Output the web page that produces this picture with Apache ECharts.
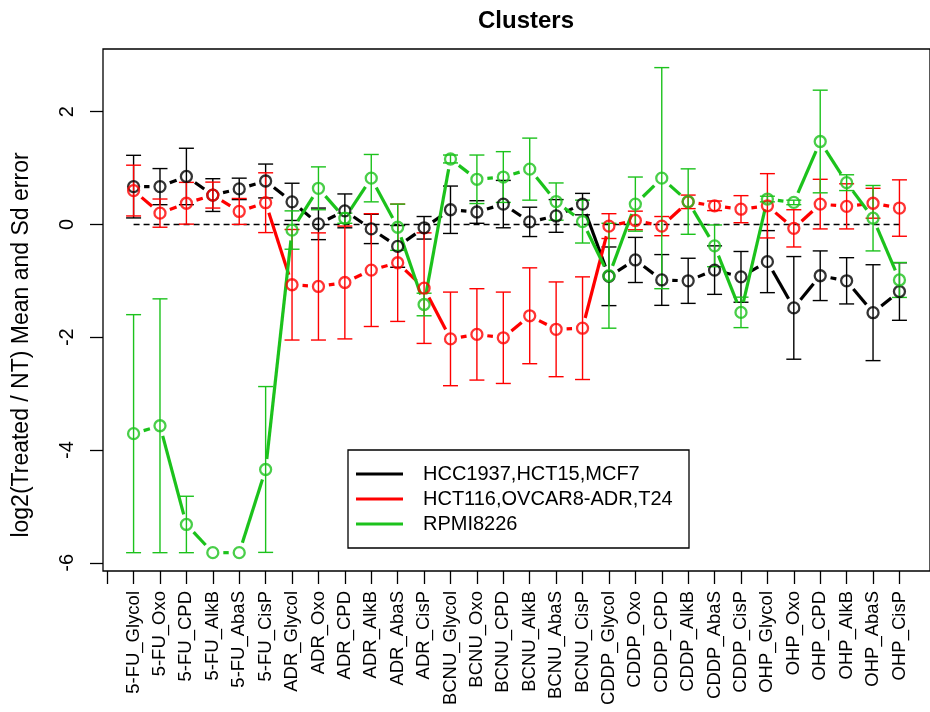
<!DOCTYPE html>
<html><head><meta charset="utf-8">
<script src="https://cdn.jsdelivr.net/npm/echarts@6/dist/echarts.min.js"></script>
<style>html,body{margin:0;padding:0;background:#fff}#c{width:930px;height:712px}</style>
</head><body><div id="c"></div>
<script>
const categories = ['5-FU_Glycol','5-FU_Oxo','5-FU_CPD','5-FU_AlkB','5-FU_AbaS','5-FU_CisP',
  'ADR_Glycol','ADR_Oxo','ADR_CPD','ADR_AlkB','ADR_AbaS','ADR_CisP',
  'BCNU_Glycol','BCNU_Oxo','BCNU_CPD','BCNU_AlkB','BCNU_AbaS','BCNU_CisP',
  'CDDP_Glycol','CDDP_Oxo','CDDP_CPD','CDDP_AlkB','CDDP_AbaS','CDDP_CisP',
  'OHP_Glycol','OHP_Oxo','OHP_CPD','OHP_AlkB','OHP_AbaS','OHP_CisP'];
const seriesNames = ['HCC1937,HCT15,MCF7','HCT116,OVCAR8-ADR,T24','RPMI8226'];
const seriesColors = ['#000000','#ff0000','#1cc21c'];
const blackMean = [0.67,0.67,0.85,0.52,0.63,0.77,0.40,0.01,0.24,-0.08,-0.39,-0.06,0.26,0.22,0.36,0.045,0.15,0.36,-0.92,-0.63,-0.985,-1.0,-0.81,-0.93,-0.66,-1.48,-0.91,-1.0,-1.565,-1.19];
const blackErr  = [0.555,0.32,0.5,0.29,0.19,0.3,0.33,0.28,0.30,0.26,0.37,0.2,0.42,0.2,0.42,0.26,0.29,0.19,0.52,0.40,0.45,0.40,0.43,0.45,0.55,0.91,0.44,0.41,0.85,0.51];
const redMean = [0.60,0.20,0.375,0.52,0.23,0.385,-1.07,-1.10,-1.03,-0.81,-0.68,-1.13,-2.03,-1.95,-2.01,-1.62,-1.86,-1.84,-0.03,0.07,-0.03,0.40,0.33,0.27,0.33,-0.07,0.36,0.32,0.375,0.29];
const redErr  = [0.45,0.25,0.37,0.23,0.23,0.53,0.98,0.95,1.0,1.0,1.04,0.98,0.83,0.81,0.81,0.85,0.84,0.91,0.22,0.165,0.17,0.12,0.085,0.24,0.57,0.33,0.44,0.40,0.265,0.50];
const greenMean = [-3.71,-3.57,-5.32,-5.82,-5.82,-4.345,-0.10,0.64,0.11,0.82,-0.05,-1.42,1.16,0.80,0.84,0.98,0.405,0.05,-0.91,0.36,0.82,0.405,-0.38,-1.56,0.45,0.39,1.47,0.74,0.11,-0.985];
const greenErr  = [2.11,2.25,0.5,0,0,1.47,0.34,0.38,0.09,0.42,0.41,0.2,0.07,0.43,0.45,0.55,0.33,0.38,0.93,0.48,1.96,0.58,0.37,0.27,0.05,0.04,0.91,0.14,0.58,0.31];
const yTicks = [-6,-4,-2,0,2];
const xTicks = [0].concat(categories.map((c,i)=>i+1));

const FONT = 'Liberation Sans, Arial, Helvetica, sans-serif';
const chart = echarts.init(document.getElementById('c'));

function gapLine(means, color){
  const data = means.slice(0,-1).map((m,i)=>[i+1, m, i+2, means[i+1]]);
  return {type:'custom', silent:true, z:3, data, encode:{x:[0,2], y:[1,3]},
    renderItem(params, api){
      const p1 = api.coord([api.value(0), api.value(1)]);
      const p2 = api.coord([api.value(2), api.value(3)]);
      const dx=p2[0]-p1[0], dy=p2[1]-p1[1], d=Math.hypot(dx,dy);
      const g = 10.5;
      if (d <= 2*g) return {type:'group', children:[]};
      const ux=dx/d, uy=dy/d;
      return {type:'line', shape:{x1:p1[0]+ux*g, y1:p1[1]+uy*g, x2:p2[0]-ux*g, y2:p2[1]-uy*g},
        style:{stroke:color, lineWidth:3.2}};
    }};
}
function errBars(means, errs, color){
  const data = means.map((m,i)=>[i+1, m-errs[i], m+errs[i]]);
  return {type:'custom', silent:true, z:2, data, encode:{x:0, y:[1,2]},
    renderItem(params, api){
      const lo = api.coord([api.value(0), api.value(1)]);
      const hi = api.coord([api.value(0), api.value(2)]);
      if (Math.abs(lo[1]-hi[1]) < 1) return {type:'group', children:[]};
      const w = 7.5, st = {stroke:color, lineWidth:1.4};
      return {type:'group', children:[
        {type:'line', shape:{x1:lo[0], y1:lo[1], x2:hi[0], y2:hi[1]}, style:st},
        {type:'line', shape:{x1:lo[0]-w, y1:lo[1], x2:lo[0]+w, y2:lo[1]}, style:st},
        {type:'line', shape:{x1:hi[0]-w, y1:hi[1], x2:hi[0]+w, y2:hi[1]}, style:st}
      ]};
    }};
}
function points(means, color){
  return {type:'scatter', silent:true, z:4, symbol:'circle', symbolSize:11,
    data: means.map((m,i)=>[i+1, m]),
    itemStyle:{color:'rgba(0,0,0,0)', borderColor:color, borderWidth:2.3}};
}
const groups = [[blackMean,blackErr],[redMean,redErr],[greenMean,greenErr]];
const series = [{
  type:'line', silent:true, symbol:'none', z:1,
  data:[[1,0],[categories.length,0]],
  lineStyle:{color:'#000', width:1.5, type:[6,4]}
}];
groups.forEach((g,k)=>{
  series.push(errBars(g[0], g[1], seriesColors[k]));
  series.push(gapLine(g[0], seriesColors[k]));
  series.push(points(g[0], seriesColors[k]));
});

const legendY = [474, 499, 524];
const graphic = [
  {type:'text', x:22, y:345, rotation:Math.PI/2,
   style:{text:'log2(Treated / NT) Mean and Sd error', font:'23px '+FONT, fill:'#000', align:'center', verticalAlign:'middle'}},
  {type:'rect', shape:{x:348, y:450, width:341, height:98}, style:{fill:'#fff', stroke:'#000', lineWidth:1.3}, z:100}
];
seriesNames.forEach((n,k)=>{
  graphic.push({type:'line', shape:{x1:356, y1:legendY[k], x2:403, y2:legendY[k]}, style:{stroke:seriesColors[k], lineWidth:3.2}, z:101});
  graphic.push({type:'text', x:423, y:legendY[k], style:{text:n, font:'20px '+FONT, fill:'#000', align:'left', verticalAlign:'middle'}, z:101});
});

chart.setOption({
  animation:false,
  backgroundColor:'#fff',
  title:{text:'Clusters', left:521, top:4, textAlign:'center',
    textStyle:{fontSize:24, fontWeight:'bold', fontFamily:FONT, color:'#000'}},
  grid:{left:103, top:49, width:838, height:522, show:true, borderColor:'#000', borderWidth:1.3, backgroundColor:'transparent'},
  xAxis:{type:'value', min:-0.158, max:31.157,
    axisLine:{show:false, onZero:false}, splitLine:{show:false},
    axisTick:{show:true, customValues:xTicks, length:13, lineStyle:{color:'#000', width:1.3}},
    axisLabel:{customValues:categories.map((c,i)=>i+1), rotate:90, margin:20, fontSize:18.5, fontFamily:FONT, color:'#000',
      formatter:v=>categories[Math.round(v)-1] || ''}},
  yAxis:{type:'value', min:-6.145, max:3.11,
    axisLine:{show:false, onZero:false}, splitLine:{show:false},
    axisTick:{show:true, customValues:yTicks, length:13, lineStyle:{color:'#000', width:1.3}},
    axisLabel:{customValues:yTicks, rotate:90, margin:26, fontSize:20, fontFamily:FONT, color:'#000'}},
  graphic,
  series
});
</script></body></html>
